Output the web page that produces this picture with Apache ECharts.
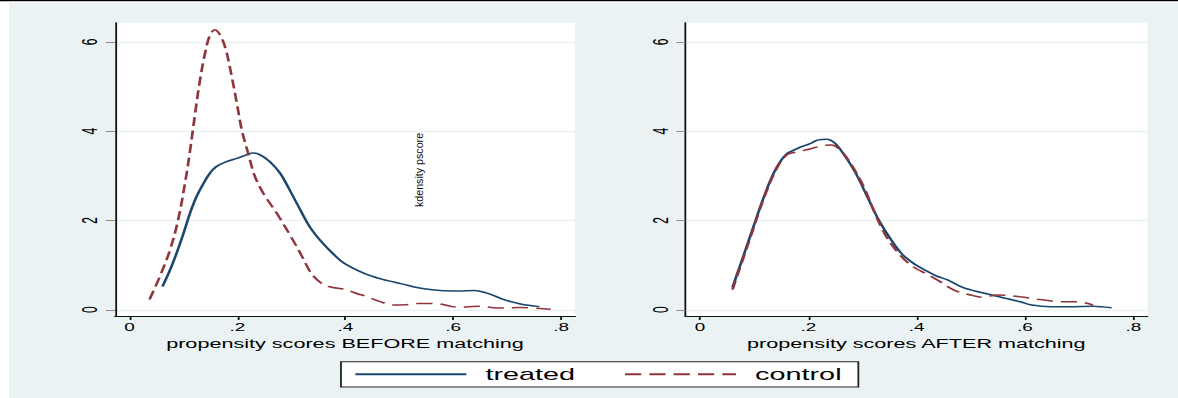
<!DOCTYPE html>
<html>
<head>
<meta charset="utf-8">
<script src="https://cdn.jsdelivr.net/npm/echarts@6/dist/echarts.min.js"></script>
<style>
  html, body { margin: 0; padding: 0; background: #ffffff; overflow: hidden; }
  #wrap { width: 1178px; height: 398px; position: relative; overflow: hidden; }
  #c { width: 654px; height: 398px; transform: scaleX(1.8012); transform-origin: 0 0; }
</style>
</head>
<body>
<div id="wrap"><div id="c"></div></div>
<script>
// ---- data (x = propensity score, y = kernel density) ----
const seriesNames = ['treated', 'control'];
const xTickValues = [0, 0.2, 0.4, 0.6, 0.8];
const yTickValues = [0, 2, 4, 6];
const leftTitle = 'propensity scores BEFORE matching';
const rightTitle = 'propensity scores AFTER matching';
const noteText = 'kdensity pscore';

const beforeTreated = [
  [0.061,0.52],[0.075,0.89],[0.087,1.26],[0.100,1.71],[0.112,2.16],[0.124,2.53],
  [0.137,2.83],[0.149,3.06],[0.161,3.21],[0.180,3.32],[0.199,3.39],[0.217,3.47],
  [0.229,3.51],[0.242,3.47],[0.260,3.32],[0.279,3.06],[0.297,2.68],[0.316,2.25],
  [0.334,1.86],[0.356,1.52],[0.377,1.26],[0.398,1.04],[0.434,0.82],[0.469,0.68],
  [0.505,0.58],[0.540,0.48],[0.576,0.43],[0.611,0.42],[0.639,0.43],[0.668,0.35],
  [0.696,0.22],[0.725,0.13],[0.760,0.07]
];
const beforeControl = [
  [0.037,0.23],[0.056,0.74],[0.075,1.34],[0.090,2.01],[0.103,2.85],[0.112,3.55],
  [0.121,4.35],[0.130,5.10],[0.140,5.75],[0.149,6.15],[0.158,6.27],[0.168,6.15],
  [0.178,5.85],[0.189,5.25],[0.199,4.62],[0.208,4.03],[0.220,3.50],[0.232,3.00],
  [0.248,2.61],[0.273,2.16],[0.303,1.56],[0.320,1.19],[0.335,0.85],[0.348,0.67],
  [0.362,0.55],[0.377,0.50],[0.398,0.46],[0.420,0.37],[0.441,0.29],[0.465,0.18],
  [0.490,0.105],[0.510,0.11],[0.533,0.14],[0.556,0.14],[0.576,0.13],[0.595,0.08],
  [0.611,0.05],[0.646,0.08],[0.682,0.04],[0.725,0.05],[0.781,0.01]
];
const afterTreated = [
  [0.060,0.50],[0.0755,1.04],[0.0967,1.79],[0.118,2.53],[0.139,3.13],[0.160,3.49],
  [0.1815,3.62],[0.203,3.72],[0.217,3.80],[0.2345,3.82],[0.249,3.73],[0.266,3.47],
  [0.2875,3.06],[0.309,2.53],[0.330,2.01],[0.351,1.60],[0.372,1.26],[0.394,1.04],
  [0.415,0.89],[0.436,0.76],[0.457,0.67],[0.485,0.50],[0.521,0.38],[0.556,0.28],
  [0.591,0.18],[0.6125,0.105],[0.648,0.07],[0.683,0.07],[0.7255,0.08],[0.760,0.045]
];
const afterControl = [
  [0.060,0.45],[0.0755,1.00],[0.0967,1.75],[0.118,2.50],[0.139,3.10],[0.160,3.47],
  [0.1815,3.54],[0.203,3.60],[0.224,3.67],[0.242,3.69],[0.259,3.58],[0.280,3.24],
  [0.302,2.76],[0.323,2.16],[0.344,1.64],[0.372,1.19],[0.394,0.96],[0.422,0.78],
  [0.443,0.63],[0.471,0.43],[0.4996,0.33],[0.521,0.28],[0.549,0.33],[0.591,0.29],
  [0.627,0.23],[0.669,0.18],[0.697,0.18],[0.7255,0.105]
];

// ---- styling ----
const NAVY = '#1a476f', MAROON = '#90353b', BG = '#eaf2f3';
const FONT = '"Liberation Sans", Arial, Helvetica, sans-serif';

function xAxisCfg(gridIndex, title) {
  return {
    type: 'value', gridIndex, min: -0.027, max: 0.826, splitNumber: 4,
    name: title, nameLocation: 'middle', nameGap: 17,
    nameTextStyle: { fontFamily: FONT, fontSize: 12, color: '#000' },
    axisLine: { show: true, onZero: false, lineStyle: { color: '#111', width: 1.2 } },
    axisTick: { show: true, length: 4, customValues: xTickValues, lineStyle: { color: '#111', width: 1 } },
    axisLabel: {
      customValues: xTickValues, margin: 6, fontFamily: FONT, fontSize: 10.5, color: '#000',
      formatter: v => (v === 0 ? '0' : String(+v.toFixed(2)).replace(/^0/, ''))
    },
    splitLine: { show: false }
  };
}
function yAxisCfg(gridIndex) {
  return {
    type: 'value', gridIndex, min: -0.14, max: 6.43, splitNumber: 3,
    axisLine: { show: true, onZero: false, lineStyle: { color: '#111', width: 1 } },
    axisTick: { show: true, length: 5, customValues: yTickValues, lineStyle: { color: '#8c8c8c', width: 1 } },
    axisLabel: {
      customValues: yTickValues, rotate: 90, margin: 8, fontFamily: FONT, fontSize: 12, color: '#000',
      formatter: v => String(v)
    },
    splitLine: { show: true, customValues: yTickValues, lineStyle: { color: BG, width: 1.3 } }
  };
}
function lineSeries(name, data, idx, color, dashed) {
  return {
    name, type: 'line', xAxisIndex: idx, yAxisIndex: idx, data,
    symbol: 'none', showSymbol: false, smooth: 0.35, z: dashed ? 3 : 2,
    lineStyle: { color, width: 1.5, type: dashed ? [9, 4.5] : 'solid' },
    itemStyle: { color }
  };
}

const chart = echarts.init(document.getElementById('c'), null, { renderer: 'svg' });
chart.setOption({
  backgroundColor: BG,
  animation: false,
  grid: [
    { left: 63.85, top: 22.7, width: 255.4, height: 293.3, show: true, backgroundColor: '#fff', borderWidth: 0 },
    { left: 380.5, top: 22.7, width: 256.5, height: 293.3, show: true, backgroundColor: '#fff', borderWidth: 0 }
  ],
  xAxis: [xAxisCfg(0, leftTitle), xAxisCfg(1, rightTitle)],
  yAxis: [yAxisCfg(0), yAxisCfg(1)],
  legend: {
    data: seriesNames, left: 189.3, top: 361.7, orient: 'horizontal',
    padding: [4.6, 9.3, 4.6, 7], itemWidth: 61.6, itemHeight: 14, itemGap: 26.7,
    backgroundColor: '#fff', borderColor: '#222', borderWidth: 1, borderRadius: 0,
    itemStyle: { color: 'rgba(0,0,0,0)', borderWidth: 0, opacity: 0 },
    textStyle: { fontFamily: FONT, fontSize: 16, color: '#000', padding: [0, 0, 0, 5.6] },
    selectedMode: false
  },
  graphic: [
    { type: 'rect', shape: { x: 0, y: 0, width: 5, height: 398 }, style: { fill: '#fff' }, silent: true },
    { type: 'rect', shape: { x: 0, y: 0, width: 654, height: 3 }, style: { fill: '#fff' }, silent: true },
    { type: 'rect', shape: { x: 0, y: 0, width: 654, height: 1.2 }, style: { fill: '#000' }, silent: true },
    {
      type: 'text', x: 232.6, y: 170, rotation: Math.PI / 2, scaleX: 1.78, scaleY: 1,
      style: { text: noteText, fontFamily: FONT, fontSize: 6, fill: '#111', align: 'center', verticalAlign: 'middle' },
      silent: true
    }
  ],
  series: [
    lineSeries(seriesNames[0], beforeTreated, 0, NAVY, false),
    lineSeries(seriesNames[1], beforeControl, 0, MAROON, true),
    lineSeries(seriesNames[0], afterTreated, 1, NAVY, false),
    lineSeries(seriesNames[1], afterControl, 1, MAROON, true)
  ]
});
</script>
</body>
</html>
